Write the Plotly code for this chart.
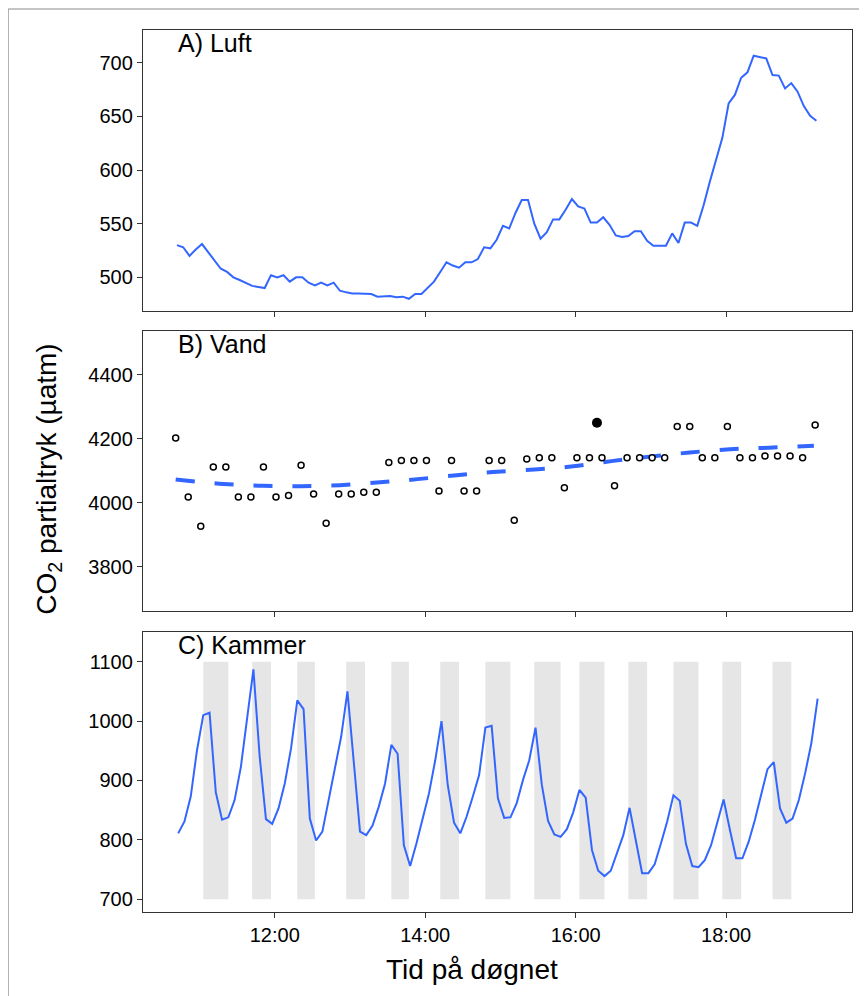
import pandas as pd
import plotly.graph_objects as go

DAY = "2021-06-01 "

# ---------------- Data ----------------
# A) Luft: air pCO2, 5-minute readings from 10:42
luft_start = "10:42"
luft_values = [
    530, 528, 520, 526, 531, 523, 515, 508, 505, 500,
    497.5, 495, 492, 491, 490, 502, 500, 502, 496, 500,
    500, 495, 492.5, 495, 492.5, 495, 487.5, 486, 485, 485,
    484.5, 484.5, 482, 482.5, 482.5, 481.5, 482, 480, 484.5, 484.5,
    490.5, 496, 505, 514, 511, 509, 514, 514, 517, 528,
    527, 535, 548, 545.5, 560, 572, 572, 550, 536, 542,
    554, 554, 563, 573, 566, 564, 551, 551, 556, 549,
    539, 537.5, 538.5, 543, 543, 534, 529.5, 529.5, 529.5, 541,
    532, 551, 551, 548, 567, 589, 609, 630, 662, 670,
    686, 691, 706.5, 705.6, 704, 688.5, 688, 676, 681, 673,
    659.6, 650.6, 646,
]

# B) Vand: water pCO2, 10-minute readings from 10:41
vand_start = "10:41"
vand_values = [
    4202, 4018, 3927, 4112, 4112, 4018, 4018, 4112, 4018, 4023,
    4117, 4028, 3936, 4028, 4028, 4033, 4033, 4126, 4132, 4132,
    4132, 4037, 4132, 4037, 4037, 4132, 4132, 3946, 4137, 4141,
    4141, 4047, 4141, 4141, 4141, 4053, 4141, 4141, 4141, 4141,
    4238, 4238, 4141, 4141, 4238, 4141, 4141, 4146, 4146, 4146,
    4141, 4243,
]
vand_special_time = ["16:17"]
vand_special_value = [4250]

# smoothed trend
trend_times = ["10:41", "11:19", "11:51", "12:21", "12:52", "13:24", "13:54",
               "14:25", "14:54", "15:27", "15:58", "16:30", "17:01", "17:31",
               "18:03", "18:34", "19:10"]
trend_values = [4073, 4059, 4053, 4052, 4055, 4064, 4074,
                4086, 4096, 4104, 4114, 4131, 4145, 4157,
                4167, 4172, 4178]

# C) Kammer: chamber pCO2, 5-minute readings from 10:43
kammer_start = "10:43"
kammer_values = [
    811, 831, 873, 951, 1010, 1014, 880, 834, 838, 867,
    923, 1002, 1087, 940, 835, 827, 853, 895, 954, 1035,
    1020, 836, 799, 814, 867, 923, 974, 1050, 929, 814,
    808, 824, 856, 895, 960, 945, 791, 756, 794, 834,
    878, 934, 1000, 892, 829, 811, 839, 873, 909, 989,
    992, 870, 837, 838, 862, 901, 934, 989, 893, 832,
    809, 805, 818, 846, 884, 871, 783, 748, 739, 748,
    777, 808, 854, 799, 744, 744, 759, 794, 831, 875,
    866, 793, 756, 754, 766, 791, 829, 868, 817, 769,
    769, 797, 834, 876, 919, 931, 853, 829, 836, 867,
    912, 963, 1038,
]

# shaded (chamber closed) periods
shade_start = ["11:03", "11:42", "12:18", "12:57", "13:33", "14:12", "14:48",
               "15:27", "16:03", "16:42", "17:18", "17:57", "18:37"]
shade_end = ["11:23", "11:57", "12:32", "13:12", "13:47", "14:27", "15:08",
             "15:48", "16:23", "16:57", "17:38", "18:12", "18:52"]
shade_low, shade_high = 700, 1100

x_tick_vals = ["12:00", "14:00", "16:00", "18:00"]
x_range = ["10:14:56", "19:40:24"]

# ---------------- Figure ----------------
def t(s):
    return pd.Timestamp(DAY + s)

luft_t = pd.date_range(t(luft_start), periods=len(luft_values), freq="5min")
vand_t = pd.date_range(t(vand_start), periods=len(vand_values), freq="10min")
kam_t = pd.date_range(t(kammer_start), periods=len(kammer_values), freq="5min")

BLUE = "#3366FF"
FRAME = "#333333"
FONT = "Liberation Sans, Arial, Helvetica, sans-serif"

OFF = 8  # page body margin
W, H = 867 - OFF, 996 - OFF
# plot-area edges in page pixels
L, R, T, B = 143.3, 852.0, 30.0, 912.0
pw, ph = R - L, B - T


def py(ypix):
    return (B - ypix) / ph


def px(xpix):
    return (xpix - L) / pw


fig = go.Figure()
fig.add_trace(go.Scatter(x=luft_t, y=luft_values, mode="lines",
                         line=dict(color=BLUE, width=2), xaxis="x", yaxis="y",
                         showlegend=False))
fig.add_trace(go.Scatter(x=[t(s) for s in trend_times], y=trend_values,
                         mode="lines", line=dict(color=BLUE, width=4, dash="19px,20px",
                                                 shape="spline", smoothing=1.0),
                         xaxis="x2", yaxis="y2", showlegend=False))
fig.add_trace(go.Scatter(x=vand_t, y=vand_values, mode="markers",
                         marker=dict(size=6, color="white", symbol="circle",
                                     line=dict(color="black", width=1.5)),
                         xaxis="x2", yaxis="y2", showlegend=False))
fig.add_trace(go.Scatter(x=[t(s) for s in vand_special_time], y=vand_special_value,
                         mode="markers", marker=dict(size=10, color="black"),
                         xaxis="x2", yaxis="y2", showlegend=False))
fig.add_trace(go.Scatter(x=kam_t, y=kammer_values, mode="lines",
                         line=dict(color=BLUE, width=2), xaxis="x3", yaxis="y3",
                         showlegend=False))

shapes = []
for s0, s1 in zip(shade_start, shade_end):
    shapes.append(dict(type="rect", xref="x3", yref="y3", x0=t(s0), x1=t(s1),
                       y0=shade_low, y1=shade_high, fillcolor="#E6E6E6",
                       line=dict(width=0), layer="below"))
# outer gray border (top & left)
shapes.append(dict(type="line", xref="paper", yref="paper", x0=px(8.5), x1=px(880),
                   y0=py(9), y1=py(9), line=dict(color="#8a8a8a", width=1)))
shapes.append(dict(type="line", xref="paper", yref="paper", x0=px(8.5), x1=px(8.5),
                   y0=py(9), y1=py(1010), line=dict(color="#8a8a8a", width=1)))

xcommon = dict(type="date", range=[t(x_range[0]), t(x_range[1])],
               tickvals=[t(v) for v in x_tick_vals], tickformat="%H:%M",
               showgrid=False, zeroline=False, showline=True, mirror=True,
               linecolor=FRAME, linewidth=1.3, ticks="outside", ticklen=5,
               tickwidth=1.2, tickcolor=FRAME,
               tickfont=dict(family=FONT, size=20, color="black"))
ycommon = dict(showgrid=False, zeroline=False, showline=True, mirror=True,
               linecolor=FRAME, linewidth=1.3, ticks="outside", ticklen=5,
               tickwidth=1.2, tickcolor=FRAME,
               tickfont=dict(family=FONT, size=20, color="black"))

fig.update_layout(
    width=W, height=H,
    margin=dict(l=L - OFF, r=W - (R - OFF), t=T - OFF, b=H - (B - OFF), pad=0),
    paper_bgcolor="white", plot_bgcolor="white",
    font=dict(family=FONT, color="black"),
    xaxis=dict(**xcommon, anchor="y", domain=[0, 1], showticklabels=False),
    xaxis2=dict(**xcommon, anchor="y2", domain=[0, 1], showticklabels=False),
    xaxis3=dict(**xcommon, anchor="y3", domain=[0, 1]),
    yaxis=dict(**ycommon, anchor="x", domain=[py(310.7), py(30)],
               range=[468.9, 730.5], tickvals=[500, 550, 600, 650, 700]),
    yaxis2=dict(**ycommon, anchor="x2", domain=[py(610.7), py(330.7)],
                range=[3663.6, 4537], tickvals=[3800, 4000, 4200, 4400]),
    yaxis3=dict(**ycommon, anchor="x3", domain=[py(912), py(631.7)],
                range=[678.6, 1150.5], tickvals=[700, 800, 900, 1000, 1100]),
    shapes=shapes,
)

annos = [
    dict(text="A) Luft", xref="paper", yref="paper", x=px(176), y=py(43),
         xanchor="left", yanchor="middle", showarrow=False,
         font=dict(family=FONT, size=25, color="black")),
    dict(text="B) Vand", xref="paper", yref="paper", x=px(176), y=py(343.5),
         xanchor="left", yanchor="middle", showarrow=False,
         font=dict(family=FONT, size=25, color="black")),
    dict(text="C) Kammer", xref="paper", yref="paper", x=px(176), y=py(644.5),
         xanchor="left", yanchor="middle", showarrow=False,
         font=dict(family=FONT, size=25, color="black")),
    dict(text="Tid på døgnet", xref="paper", yref="paper", x=px(472), y=py(970),
         xanchor="center", yanchor="middle", showarrow=False,
         font=dict(family=FONT, size=28, color="black")),
    dict(text="CO<sub>2</sub> partialtryk (µatm)", xref="paper", yref="paper",
         x=px(49), y=py(479), xanchor="center", yanchor="middle", textangle=-90,
         showarrow=False, font=dict(family=FONT, size=28, color="black")),
]
fig.update_layout(annotations=annos)

fig.write_html("out.html")
